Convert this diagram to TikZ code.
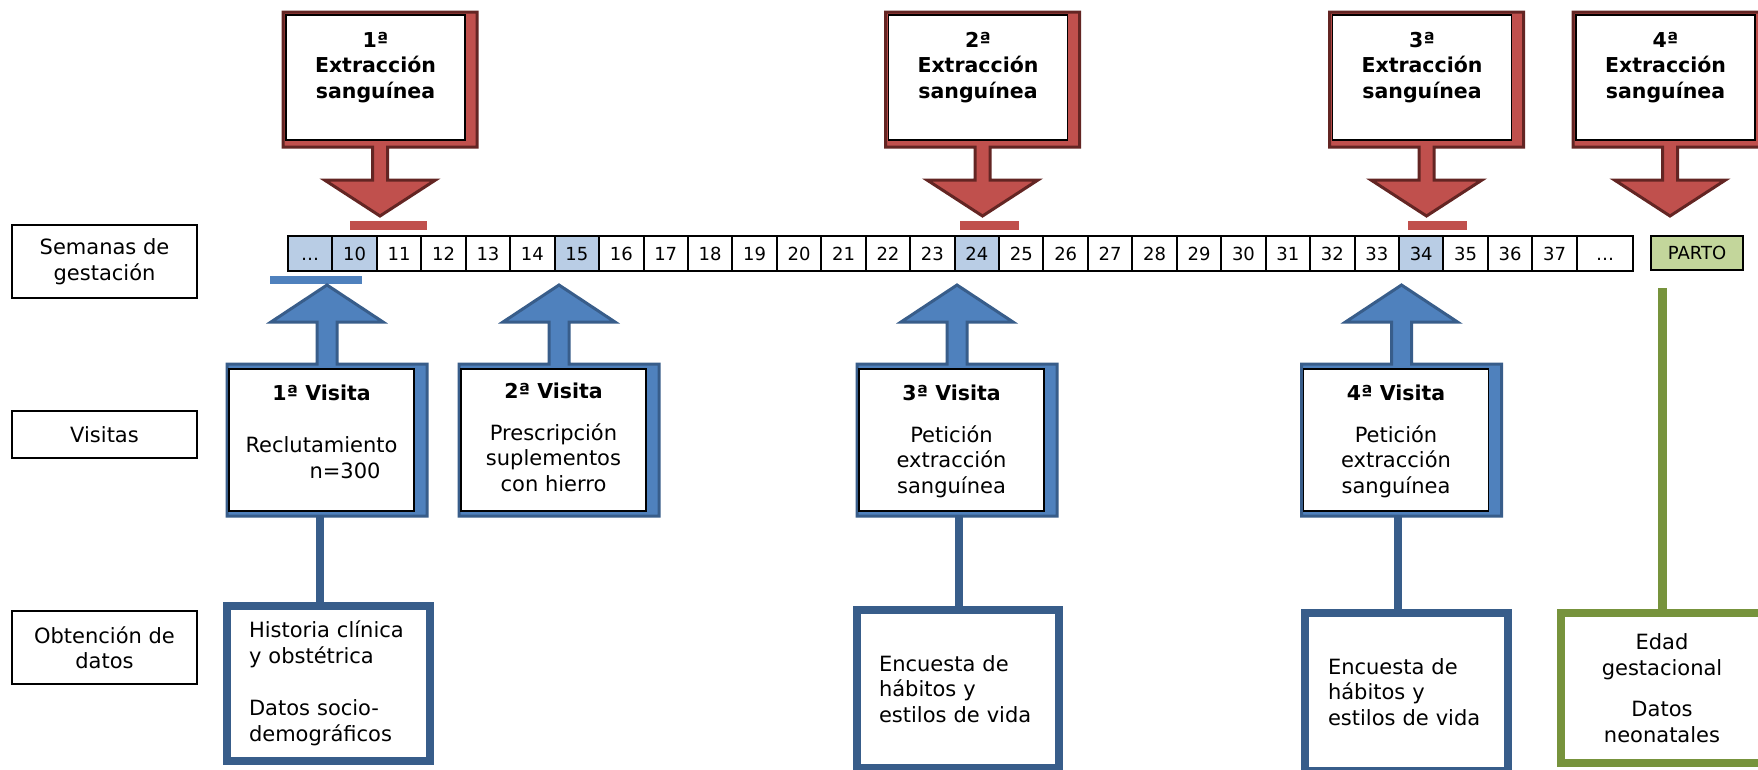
\documentclass[tikz,border=0pt]{standalone}
\usepackage{fontspec}
\setmainfont{DejaVu Sans}
\usetikzlibrary{calc}
\definecolor{redf}{HTML}{C0504D}
\definecolor{redd}{HTML}{632523}
\definecolor{bluef}{HTML}{4F81BD}
\definecolor{blued}{HTML}{385D8A}
\definecolor{cellb}{HTML}{B9CDE5}
\definecolor{grn}{HTML}{77933C}
\definecolor{grnf}{HTML}{C3D69B}
\begin{document}
\begin{tikzpicture}[x=1pt,y=-1pt,
  redcall/.style={fill=redf,draw=redd,line width=3pt,line join=miter},
  bluecall/.style={fill=bluef,draw=blued,line width=3pt,line join=miter},
  whitebox/.style={fill=white,draw=black,line width=1.2pt},
  btitle/.style={font=\fontsize{20.5}{25.5}\selectfont\bfseries,align=center,anchor=base,inner sep=0pt},
  body/.style={font=\fontsize{21}{25.5}\selectfont,align=center,anchor=base,inner sep=0pt},
  cell/.style={draw=black,line width=2pt,minimum width=44.44pt,minimum height=35pt,inner sep=0pt,outer sep=0pt,anchor=west,font=\fontsize{18}{20}\selectfont,text height=13pt,text depth=0pt,fill=white},
  lbl/.style={draw=black,line width=1.5pt,minimum width=185pt,inner sep=0pt,align=center,font=\fontsize{21}{25.5}\selectfont},
  databox/.style={draw=blued,line width=8pt,fill=white,inner sep=0pt,font=\fontsize{21}{25.5}\selectfont},
  conn/.style={draw=blued,line width=8pt},
  redco/.pic={
    \draw[redcall] (-97,12) -- (97,12) -- (97,147) -- (7.5,147) -- (7.5,180) -- (55.5,180) -- (0,216) -- (-55.5,180) -- (-7.5,180) -- (-7.5,147) -- (-97,147) -- cycle;
    \draw[whitebox] (-94,15) rectangle (85,140);
  },
  blueco/.pic={
    \draw[bluecall] (-100,364) -- (-10,364) -- (-10,322) -- (-56,322) -- (0,285) -- (56,322) -- (10,322) -- (10,364) -- (100,364) -- (100,516) -- (-100,516) -- cycle;
    \draw[whitebox] (-98,369) rectangle (87,511);
  }
]
\useasboundingbox (0,0) rectangle (1758,769);
\clip (0,0) rectangle (1758,769);
\fill[white] (0,0) rectangle (1758,769);

% left labels
\node[lbl,minimum height=73pt] (lsem) at (104.5,261.5) {Semanas de\\gestación};
\node[lbl,minimum height=47pt] (lvis) at (104.5,434.5) {Visitas};
\node[lbl,minimum height=73pt] (lobt) at (104.5,647.5) {Obtención de\\datos};

% top blood extraction callouts
\pic at (380,0) {redco};
\pic at (982.5,0) {redco};
\pic at (1426.5,0) {redco};
\pic at (1670,0) {redco};
\node[btitle] (ex1) at (375.5,98) {1ª\\Extracción\\sanguínea};
\node[btitle] (ex2) at (978,98) {2ª\\Extracción\\sanguínea};
\node[btitle] (ex3) at (1422,98) {3ª\\Extracción\\sanguínea};
\node[btitle] (ex4) at (1665.5,98) {4ª\\Extracción\\sanguínea};

% marker bars
\fill[redf] (350,221) rectangle (427,230);
\fill[redf] (960,221) rectangle (1019,230);
\fill[redf] (1408,221) rectangle (1467,230);
\fill[bluef] (270,276) rectangle (362,284);

% timeline
\node[cell,fill=cellb] (w9) at (288,253.5) {…};
\foreach \n in {10,...,37}{
  \ifnum\n=10 \def\cf{cellb}\else\ifnum\n=15 \def\cf{cellb}\else\ifnum\n=24 \def\cf{cellb}\else\ifnum\n=34 \def\cf{cellb}\else\def\cf{white}\fi\fi\fi\fi
  \node[cell,fill=\cf] (w\n) at ({288+(\n-9)*44.44},253.5) {\n};
}
\node[cell,minimum width=56pt] (w38) at (1577,253.5) {…};
\node[cell,fill=grnf,minimum width=92pt,minimum height=34pt] (parto) at (1651,253) {PARTO};

% visit callouts
\pic at (327,0) {blueco};
\pic at (559,0) {blueco};
\pic at (957,0) {blueco};
\pic at (1401.5,0) {blueco};
\node[btitle] (v1t) at (321.5,400) {1ª Visita};
\node[body,align=left] (v1b) at (321.5,478) {Reclutamiento\\\hspace*{64pt}n=300};
\node[btitle] (v2t) at (553.5,398) {2ª Visita};
\node[body] (v2b) at (553.5,491) {Prescripción\\suplementos\\con hierro};
\node[btitle] (v3t) at (951.5,400) {3ª Visita};
\node[body] (v3b) at (951.5,493) {Petición\\extracción\\sanguínea};
\node[btitle] (v4t) at (1396,400) {4ª Visita};
\node[body] (v4b) at (1396,493) {Petición\\extracción\\sanguínea};

% data boxes
\node[databox,minimum width=203pt,minimum height=155pt,text width=159pt,align=left] (d1) at (328.5,683.5) {Historia clínica\\y obstétrica\\[27pt]Datos socio-\\demográficos};
\node[databox,minimum width=202pt,minimum height=158pt,text width=158pt,align=left] (d3) at (958,689) {Encuesta de\\hábitos y\\estilos de vida};
\node[databox,minimum width=203pt,minimum height=158pt,text width=157pt,align=left] (d4) at (1406.5,692) {Encuesta de\\hábitos y\\estilos de vida};
\node[databox,draw=grn,minimum width=202pt,minimum height=150pt,text width=180pt,align=center] (d5) at (1662,688) {Edad\\gestacional\\[16pt]Datos\\neonatales};

% connectors
\coordinate (vb1) at (320,516);
\coordinate (vb3) at (959,516);
\coordinate (vb4) at (1398,516);
\coordinate (pb) at (1662,288);
\draw[conn] (vb1) -- (vb1 |- d1.north);
\draw[conn] (vb3) -- (vb3 |- d3.north);
\draw[conn] (vb4) -- (vb4 |- d4.north);
\draw[conn,draw=grn,line width=9pt] (pb) -- (d5.north);
\end{tikzpicture}
\end{document}
